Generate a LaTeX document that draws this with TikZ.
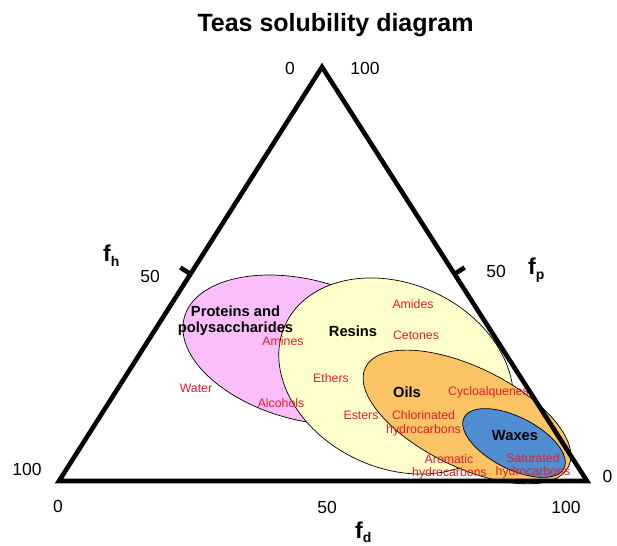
\documentclass[tikz,border=0pt]{standalone}
\usepackage{fontspec}
\setmainfont{Liberation Sans}
\usetikzlibrary{calc}
\definecolor{pinkfill}{RGB}{250,190,250}
\definecolor{yellowfill}{RGB}{255,255,204}
\definecolor{orangefill}{RGB}{250,195,100}
\definecolor{bluefill}{RGB}{80,140,210}
\definecolor{labred}{RGB}{228,32,40}
\begin{document}
\begin{tikzpicture}[x=1pt,y=1pt,
  lbl/.style={text=labred, font=\fontsize{12.3}{14}\selectfont, inner sep=0pt, anchor=base},
  grp/.style={font=\bfseries\fontsize{14.7}{17}\selectfont, inner sep=0pt, anchor=base},
  num/.style={font=\fontsize{17.5}{20}\selectfont, inner sep=0pt, anchor=base},
  axislab/.style={font=\bfseries\fontsize{23}{23}\selectfont, inner sep=0pt, anchor=base west},
  axisline/.style={line width=4.6pt},
  blob/.style={draw=black, line width=0.7pt}]
\useasboundingbox (0,0) rectangle (617,545);
\fill[white] (0,0) rectangle (617,545);
% regions
\draw[blob, fill=pinkfill, rotate around={-15:(305,195)}] (305,195) ellipse [x radius=125, y radius=70];
\draw[blob, fill=yellowfill, rotate around={-25:(396,169)}] (396,169) ellipse [x radius=122, y radius=92];
\draw[blob, fill=orangefill, rotate around={-26:(467,128)}] (467,128) ellipse [x radius=113, y radius=50];
\draw[blob, fill=bluefill, rotate around={-27:(514,102)}] (514,102) ellipse [x radius=56, y radius=26];
% group names
\node[grp] (prot) at (235.5,228) {Proteins and};
\node[grp] (poly) at (235.5,212) {polysaccharides};
\node[grp] (resins) at (353,208) {Resins};
\node[grp] (oils) at (407,147) {Oils};
\node[grp] (waxes) at (515,104) {Waxes};
% solvents
\node[lbl] (amines) at (283,199) {Amines};
\node[lbl] (water) at (196,152) {Water};
\node[lbl] (alcohols) at (281,137) {Alcohols};
\node[lbl] (ethers) at (331,162) {Ethers};
\node[lbl] (esters) at (361,125) {Esters};
\node[lbl] (amides) at (413,236) {Amides};
\node[lbl] (cetones) at (416,205) {Cetones};
\node[lbl, anchor=base west] (cyclo) at (448,149) {Cycloalquenes};
\node[lbl] (chlor1) at (423.5,125) {Chlorinated};
\node[lbl] (chlor2) at (423.5,111) {hydrocarbons};
\node[lbl] (arom1) at (449,81) {Aromatic};
\node[lbl] (arom2) at (449.5,68) {hydrocarbons};
\node[lbl] (sat1) at (533,82) {Saturated};
\node[lbl] (sat2) at (533,69) {hydrocarbons};
% triangle
\coordinate (A) at (322,478);
\coordinate (B) at (59,64);
\coordinate (C) at (587,64);
\draw[axisline] (A) -- (B) -- (C) -- cycle;
\coordinate (mL) at ($(A)!0.5!(B)$);
\coordinate (mR) at ($(A)!0.5!(C)$);
\coordinate (tL) at ($(mL)!12pt!90:(A)$);
\coordinate (tR) at ($(mR)!12pt!-90:(A)$);
\draw[axisline] (mL) -- (tL);
\draw[axisline] (mR) -- (tR);
% title
\node[font=\bfseries\fontsize{25}{28}\selectfont, inner sep=0pt, anchor=base] (title) at (335.5,513) {Teas solubility diagram};
% scale numbers
\node[num] (top0) at (290,470) {0};
\node[num] (top100) at (365,470) {100};
\node[num] (l50) at (150,262) {50};
\node[num] (r50) at (496,267) {50};
\node[num] (l100) at (27,69) {100};
\node[num] (r0) at (607.5,62) {0};
\node[num] (b0) at (58,32) {0};
\node[num] (b50) at (327,31) {50};
\node[num] (b100) at (566,31) {100};
% axis names
\node[axislab] (fh) at (103,283) {f\raisebox{-5pt}{\fontsize{14}{14}\selectfont h}};
\node[axislab] (fp) at (528,270) {f\raisebox{-5pt}{\fontsize{14}{14}\selectfont p}};
\node[axislab] (fd) at (355,7) {f\raisebox{-5pt}{\fontsize{14}{14}\selectfont d}};
\end{tikzpicture}
\end{document}
